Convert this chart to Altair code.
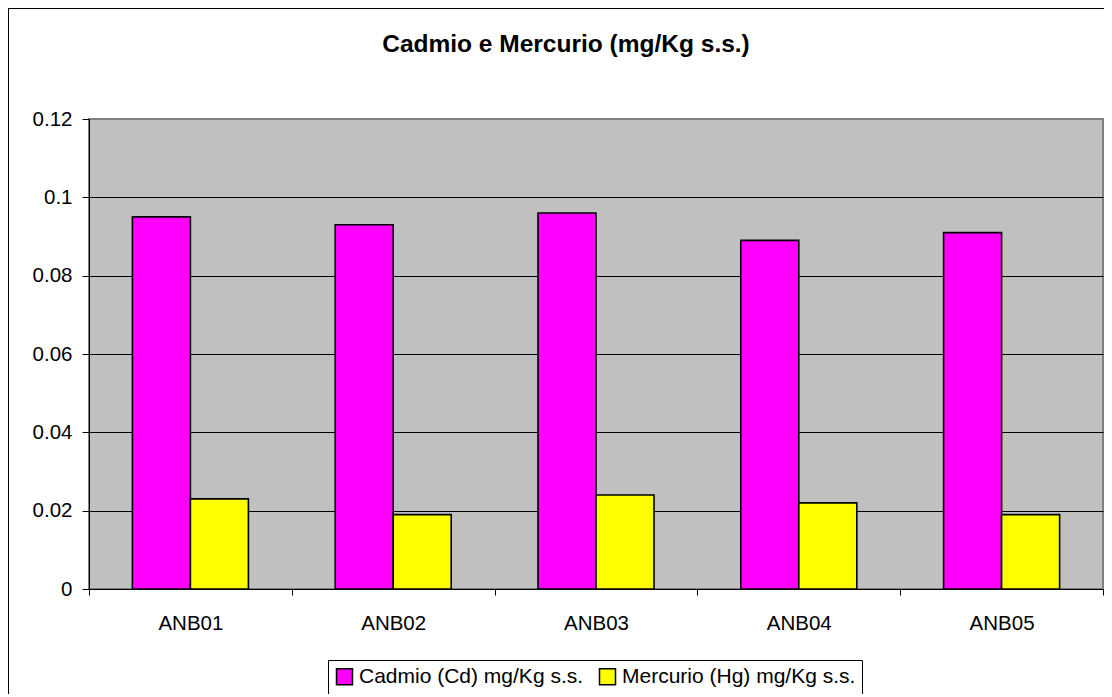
import altair as alt
import pandas as pd

# ---- data ----
sites = ["ANB01", "ANB02", "ANB03", "ANB04", "ANB05"]
cadmio = [0.095, 0.093, 0.096, 0.089, 0.091]
mercurio = [0.023, 0.019, 0.024, 0.022, 0.019]
series = ["Cadmio (Cd) mg/Kg s.s.", "Mercurio (Hg) mg/Kg s.s."]
colors = ["#FF00FF", "#FFFF00"]
y_ticks = [0, 0.02, 0.04, 0.06, 0.08, 0.1, 0.12]
chart_title = "Cadmio e Mercurio (mg/Kg s.s.)"

rows = []
for i, s in enumerate(sites):
    rows.append({"site": s, "serie": series[0], "valore": cadmio[i]})
    rows.append({"site": s, "serie": series[1], "valore": mercurio[i]})
df = pd.DataFrame(rows)

W, H = 1014, 470
FONT = "Liberation Sans"

bars = alt.Chart(df).mark_bar(stroke="black", strokeWidth=1.6).encode(
    x=alt.X(
        "site:N", sort=sites, title=None,
        scale=alt.Scale(paddingInner=0, paddingOuter=0),
        axis=alt.Axis(labelAngle=0, labelFontSize=20.5, labelFont=FONT, labelColor="black",
                      domainColor="black", domainWidth=1, tickColor="black", tickSize=6,
                      tickWidth=1, tickBand="extent", labelPadding=18, grid=False),
    ),
    xOffset=alt.XOffset("serie:N", sort=series,
                        scale=alt.Scale(paddingInner=0, paddingOuter=0.748)),
    y=alt.Y(
        "valore:Q", title=None,
        scale=alt.Scale(domain=[0, 0.12], nice=False, zero=True),
        axis=alt.Axis(values=y_ticks, labelExpr="format(datum.value, '~g')",
                      labelFontSize=20.5, labelFont=FONT, labelColor="black",
                      domainColor="black", domainWidth=1, tickColor="black", tickSize=7,
                      tickWidth=1, labelPadding=10, grid=True, gridWidth=1,
                      gridColor={"condition": {"test": "datum.value >= 0.119", "value": "#808080"},
                                 "value": "black"}),
    ),
    color=alt.Color(
        "serie:N", sort=series,
        scale=alt.Scale(domain=series, range=colors),
        legend=alt.Legend(orient="none", legendX=239, legendY=541, direction="horizontal",
                          title=None, symbolType="square", symbolSize=256,
                          symbolStrokeColor="black", symbolStrokeWidth=1.5,
                          labelFontSize=21, labelFont=FONT, labelColor="black",
                          labelLimit=600, labelOffset=4, columnPadding=12, padding=6,
                          strokeColor="black", fillColor="white"),
    ),
)

one = pd.DataFrame({"t": [chart_title]})

border_left = alt.Chart(one).mark_rule(color="black", strokeWidth=2).encode(
    x=alt.value(-81), y=alt.value(-111), y2=alt.value(H + 200)
)
border_top = alt.Chart(one).mark_rule(color="black", strokeWidth=2).encode(
    x=alt.value(-81), x2=alt.value(W + 100), y=alt.value(-111)
)
title_text = alt.Chart(one).mark_text(
    font=FONT, fontSize=24.5, fontWeight="bold", color="black",
    align="center", baseline="alphabetic"
).encode(text="t:N", x=alt.value(477), y=alt.value(-67))

chart = alt.layer(border_left, border_top, bars, title_text).properties(
    width=W, height=H,
    padding={"left": 81, "top": 111, "right": 1, "bottom": 105},
    autosize=alt.AutoSizeParams(type="none"),
    background="white",
).configure_view(fill="#C0C0C0", stroke="#808080", strokeWidth=2)

chart.save("out.html", embed_options={"renderer": "svg", "actions": False})
